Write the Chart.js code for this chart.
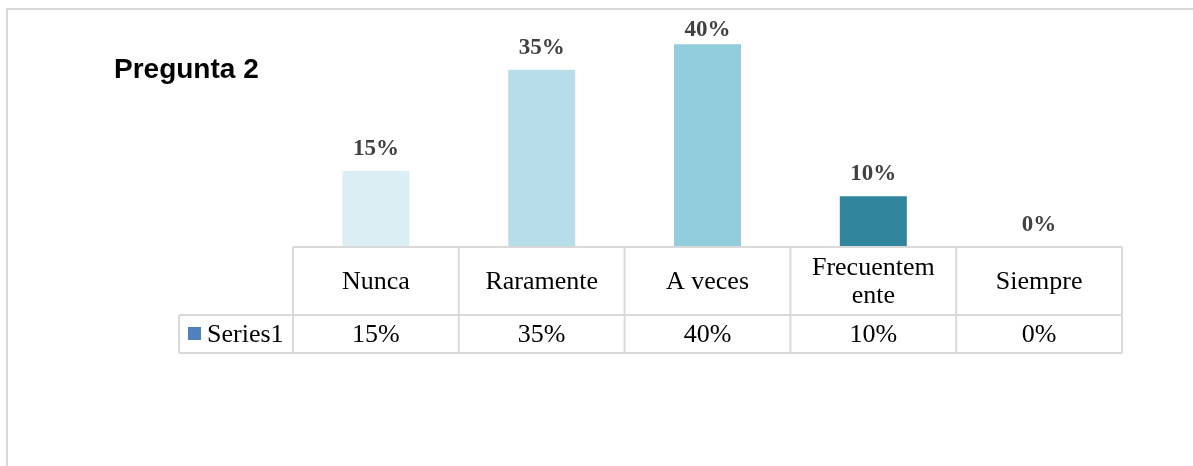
<!DOCTYPE html>
<html lang="es">
<head>
    <meta charset="UTF-8">
    <title>Pregunta 2</title>
    <script src="https://cdn.jsdelivr.net/npm/chart.js"></script>
    <style>
        body, html {
            margin: 0;
            padding: 0;
            background-color: #ffffff;
            overflow: hidden;
        }
        #chart {
            display: block;
        }
    </style>
</head>
<body>
    <canvas id="chart" width="1193" height="466"></canvas>
    <script>
        // Data
        const chartTitle = 'Pregunta 2';
        const seriesName = 'Series1';
        const categories = ['Nunca', 'Raramente', 'A veces', 'Frecuentemente', 'Siempre'];
        const seriesValues = [0.15, 0.35, 0.40, 0.10, 0.00];
        const barColors = ['#daeef3', '#b7dee8', '#92cddc', '#31859c', '#215968'];
        const legendColor = '#4f81bd';

        const gridColor = '#d9d9d9';
        const serif = '"Liberation Serif", "Times New Roman", serif';
        const pct = v => Math.round(v * 100) + '%';

        // wrap a label by characters so it fits in a cell (Excel style)
        function wrapText(ctx, text, maxWidth) {
            const lines = [];
            let line = '';
            for (const ch of text) {
                if (ctx.measureText(line + ch).width > maxWidth && line) {
                    lines.push(line);
                    line = ch;
                } else {
                    line += ch;
                }
            }
            lines.push(line);
            return lines;
        }

        const frameAndTable = {
            id: 'frameAndTable',
            afterDatasetsDraw(chart) {
                const ctx = chart.ctx;
                const area = chart.chartArea;
                const xScale = chart.scales.x;
                const meta = chart.getDatasetMeta(0);

                ctx.save();

                // outer frame (only top and left edge visible)
                ctx.strokeStyle = '#d9d9d9';
                ctx.lineWidth = 2;
                ctx.beginPath();
                ctx.moveTo(7, chart.height);
                ctx.lineTo(7, 9);
                ctx.lineTo(chart.width, 9);
                ctx.stroke();

                // title
                ctx.fillStyle = '#000000';
                ctx.font = 'bold 28px "Liberation Sans", Arial, sans-serif';
                ctx.textAlign = 'left';
                ctx.textBaseline = 'alphabetic';
                ctx.fillText(chartTitle, 114, 78);

                // data labels above bars (kept inside the plot like Excel)
                ctx.fillStyle = '#404040';
                ctx.font = 'bold 23px ' + serif;
                ctx.textAlign = 'center';
                meta.data.forEach((bar, i) => {
                    ctx.fillText(pct(seriesValues[i]), bar.x, Math.max(bar.y - 16, 36));
                });

                // data table
                const top = area.bottom;
                const rowSplit = top + 68;
                const bottom = rowSplit + 38;
                const left = area.left;
                const right = area.right;
                const legendLeft = left - 114;
                const colW = (right - left) / categories.length;

                ctx.strokeStyle = gridColor;
                ctx.lineWidth = 2;
                ctx.beginPath();
                ctx.moveTo(left, top); ctx.lineTo(right, top);
                ctx.moveTo(legendLeft, rowSplit); ctx.lineTo(right, rowSplit);
                ctx.moveTo(legendLeft, bottom); ctx.lineTo(right, bottom);
                ctx.moveTo(legendLeft, rowSplit); ctx.lineTo(legendLeft, bottom);
                for (let i = 0; i <= categories.length; i++) {
                    const x = i < categories.length
                        ? xScale.getPixelForValue(i) - colW / 2
                        : right;
                    ctx.moveTo(x, top); ctx.lineTo(x, bottom);
                }
                ctx.stroke();

                ctx.fillStyle = '#000000';
                ctx.font = '26px ' + serif;
                ctx.textAlign = 'center';
                ctx.textBaseline = 'middle';
                categories.forEach((cat, i) => {
                    const cx = xScale.getPixelForValue(i);
                    const lines = wrapText(ctx, cat, colW - 36);
                    const lh = 28;
                    const cy = (top + rowSplit) / 2 + 1 - (lines.length - 1) * lh / 2;
                    lines.forEach((ln, j) => ctx.fillText(ln, cx, cy + j * lh));
                    ctx.fillText(pct(seriesValues[i]), cx, (rowSplit + bottom) / 2 + 1);
                });

                // legend key in the table
                ctx.fillStyle = legendColor;
                ctx.fillRect(legendLeft + 9, (rowSplit + bottom) / 2 - 7, 13, 13);
                ctx.fillStyle = '#000000';
                ctx.textAlign = 'left';
                ctx.fillText(seriesName, legendLeft + 28, (rowSplit + bottom) / 2 + 1);

                ctx.restore();
            }
        };

        new Chart(document.getElementById('chart'), {
            type: 'bar',
            data: {
                labels: categories,
                datasets: [{
                    label: seriesName,
                    data: seriesValues,
                    backgroundColor: barColors,
                    borderWidth: 0,
                    categoryPercentage: 1,
                    barPercentage: 0.404
                }]
            },
            options: {
                responsive: false,
                animation: false,
                layout: {
                    padding: { left: 293, right: 71, top: 19, bottom: 219 }
                },
                plugins: {
                    legend: { display: false },
                    title: { display: false },
                    tooltip: { enabled: false }
                },
                scales: {
                    x: { display: false, offset: true },
                    y: { display: false, min: 0, max: 0.45 }
                }
            },
            plugins: [frameAndTable]
        });
    </script>
</body>
</html>
